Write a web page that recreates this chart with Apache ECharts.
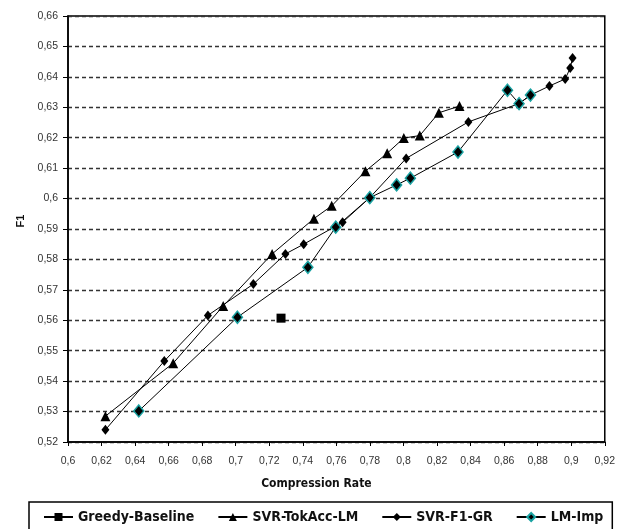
<!DOCTYPE html>
<html>
<head>
<meta charset="utf-8">
<style>
  html, body { margin: 0; padding: 0; background: #fff; }
  #chart { width: 618px; height: 529px; }
</style>
<script src="https://cdn.jsdelivr.net/npm/echarts@6/dist/echarts.min.js"></script>
</head>
<body>
<div id="chart"></div>
<script>
// ---- data ----
var seriesNames = ['Greedy-Baseline', 'SVR-TokAcc-LM', 'SVR-F1-GR', 'LM-Imp'];

var greedyX = [0.727];
var greedyY = [0.5607];

var tokAccX = [0.6223, 0.6627, 0.6925, 0.7217, 0.7466, 0.7572, 0.7773, 0.7903, 0.8002, 0.8097, 0.8211, 0.8334];
var tokAccY = [0.5285, 0.5459, 0.5647, 0.5818, 0.5934, 0.5976, 0.6090, 0.6149, 0.6199, 0.6207, 0.6282, 0.6304];

var f1GrX = [0.6223, 0.6574, 0.6834, 0.7105, 0.7296, 0.7405, 0.7637, 0.7799, 0.8016, 0.8387, 0.8689, 0.8757, 0.8870, 0.8964, 0.8994, 0.9008];
var f1GrY = [0.5240, 0.5466, 0.5616, 0.5719, 0.5818, 0.5850, 0.5922, 0.6003, 0.6132, 0.6252, 0.6312, 0.6340, 0.6370, 0.6393, 0.6429, 0.6462];

var lmImpX = [0.6422, 0.7010, 0.7430, 0.7596, 0.7799, 0.7959, 0.8041, 0.8325, 0.8620, 0.8689, 0.8757];
var lmImpY = [0.5302, 0.5610, 0.5774, 0.5906, 0.6003, 0.6045, 0.6067, 0.6153, 0.6356, 0.6312, 0.6340];

var xMin = 0.6, xMax = 0.92, xStep = 0.02;
var yMin = 0.52, yMax = 0.66, yStep = 0.01;
var xTitle = 'Compression Rate';
var yTitle = 'F1';

function pairs(xs, ys) {
  return xs.map(function (x, i) { return [x, ys[i]]; });
}
function commaFmt(v) {
  return String(Number(v.toFixed(2))).replace('.', ',');
}

var SANS = "'Liberation Sans', Arial, sans-serif";
var NARROW = "'Liberation Sans Narrow', 'DejaVu Sans Condensed', 'Liberation Sans', sans-serif";

var chart = echarts.init(document.getElementById('chart'), null, { renderer: 'canvas' });

var lineStyle = { color: '#000', width: 1 };

chart.setOption({
  animation: false,
  backgroundColor: '#fff',
  grid: {
    left: 68, right: 9, top: 16, bottom: 87,
    show: true, borderColor: '#000', borderWidth: 1.5, backgroundColor: 'transparent'
  },
  xAxis: {
    type: 'value',
    min: xMin, max: xMax, interval: xStep,
    name: xTitle,
    nameLocation: 'middle',
    nameGap: 36,
    nameTextStyle: {
      fontFamily: NARROW, fontWeight: 'bold', fontSize: 12, color: '#111',
      padding: [0, 40, 0, 0]
    },
    axisLine: { show: true, onZero: false, lineStyle: { color: '#000', width: 1.5 } },
    axisTick: { show: true, inside: false, length: 4, lineStyle: { color: '#000', width: 1 } },
    axisLabel: {
      formatter: commaFmt, margin: 14,
      fontFamily: SANS, fontSize: 10.5, color: '#333'
    },
    splitLine: { show: false }
  },
  yAxis: {
    type: 'value',
    min: yMin, max: yMax, interval: yStep,
    name: yTitle,
    nameLocation: 'middle',
    nameGap: 42,
    nameRotate: 90,
    nameTextStyle: {
      fontFamily: SANS, fontWeight: 'bold', fontSize: 11, color: '#111',
      padding: [0, 0, 0, 16]
    },
    axisLine: { show: true, onZero: false, lineStyle: { color: '#000', width: 1.5 } },
    axisTick: { show: true, inside: false, length: 5, lineStyle: { color: '#000', width: 1 } },
    axisLabel: {
      formatter: commaFmt, margin: 10,
      fontFamily: SANS, fontSize: 10.5, color: '#333'
    },
    splitLine: { show: true, lineStyle: { color: '#333', width: 1.3, type: [4, 3] } }
  },
  legend: {
    left: 29, top: 502,
    orient: 'horizontal',
    data: seriesNames,
    itemWidth: 29, itemHeight: 10, itemGap: 23,
    padding: [8, 9, 20, 14],
    borderColor: '#000', borderWidth: 1.5,
    textStyle: { fontFamily: NARROW, fontWeight: 'bold', fontSize: 14, color: '#111' }
  },
  series: [
    {
      name: seriesNames[0], type: 'line', data: pairs(greedyX, greedyY),
      symbol: 'rect', symbolSize: 9,
      lineStyle: lineStyle, itemStyle: { color: '#000' }
    },
    {
      name: seriesNames[1], type: 'line', data: pairs(tokAccX, tokAccY),
      symbol: 'triangle', symbolSize: 10,
      lineStyle: lineStyle, itemStyle: { color: '#000' }
    },
    {
      name: seriesNames[2], type: 'line', data: pairs(f1GrX, f1GrY),
      symbol: 'diamond', symbolSize: [8, 10],
      lineStyle: lineStyle, itemStyle: { color: '#000' }
    },
    {
      name: seriesNames[3], type: 'line', data: pairs(lmImpX, lmImpY),
      symbol: 'diamond', symbolSize: [10, 12],
      lineStyle: lineStyle, itemStyle: { color: '#000', borderColor: '#1aa3a3', borderWidth: 1.5 }
    }
  ]
});
</script>
</body>
</html>
